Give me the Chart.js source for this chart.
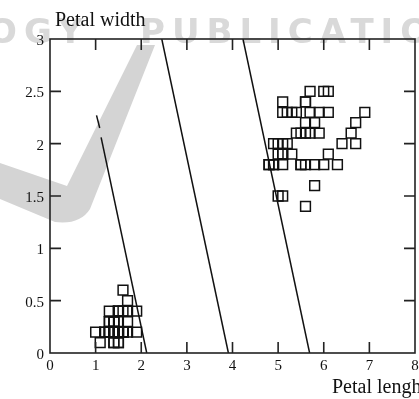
<!DOCTYPE html>
<html><head><meta charset="utf-8">
<script src="https://cdn.jsdelivr.net/npm/chart.js@4.4.0/dist/chart.umd.min.js"></script>
<style>html,body{margin:0;padding:0;background:#fff;overflow:hidden}canvas{display:block}</style>
</head><body>
<canvas id="c" width="419" height="399"></canvas>
<script>
const xTitle = 'Petal lenght';
const yTitle = 'Petal width';
const xTicks = [0, 1, 2, 3, 4, 5, 6, 7, 8];
const yTicks = [0, 0.5, 1, 1.5, 2, 2.5, 3];

const setosaLength = [1.4,1.4,1.3,1.5,1.4,1.7,1.4,1.5,1.4,1.5,1.5,1.6,1.4,1.1,1.2,1.5,1.3,1.4,1.7,1.5,1.7,1.5,1.0,1.7,1.9,1.6,1.6,1.5,1.4,1.6,1.6,1.5,1.5,1.4,1.5,1.2,1.3,1.4,1.3,1.5,1.3,1.3,1.3,1.6,1.9,1.4,1.6,1.4,1.5,1.4];
const setosaWidth  = [0.2,0.2,0.2,0.2,0.2,0.4,0.3,0.2,0.2,0.1,0.2,0.2,0.1,0.1,0.2,0.4,0.4,0.3,0.3,0.3,0.2,0.4,0.2,0.5,0.2,0.2,0.4,0.2,0.2,0.2,0.2,0.4,0.1,0.2,0.2,0.2,0.2,0.1,0.2,0.2,0.3,0.3,0.2,0.6,0.4,0.3,0.2,0.2,0.2,0.2];

const virginicaLength = [6.0,5.1,5.9,5.6,5.8,6.6,6.3,5.8,6.1,5.1,5.3,5.5,5.0,5.1,5.3,5.5,6.7,6.9,5.0,5.7,4.9,6.7,4.9,5.7,6.0,4.8,4.9,5.6,5.8,6.1,6.4,5.6,5.1,5.6,6.1,5.6,5.5,4.8,5.4,5.6,5.1,5.1,5.9,5.7,5.2,5.0,5.2,5.4,5.1];
const virginicaWidth  = [2.5,1.9,2.1,1.8,2.2,2.1,1.8,1.8,2.5,2.0,1.9,2.1,2.0,2.4,2.3,1.8,2.2,2.3,1.5,2.3,2.0,2.0,1.8,2.1,1.8,1.8,1.8,2.1,1.6,1.9,2.0,2.2,1.5,1.4,2.3,2.4,1.8,1.8,2.1,2.4,2.3,1.9,2.3,2.5,2.3,1.9,2.0,2.3,1.8];

// decision boundaries (x = petal length, y = petal width)
const boundary1aX = [1.02, 1.09];
const boundary1aY = [2.27, 2.15];
const boundary1bX = [1.12, 2.12];
const boundary1bY = [2.06, 0];
const boundary2X = [2.45, 3.91];
const boundary2Y = [3, 0];
const boundary3X = [4.23, 5.69];
const boundary3Y = [3, 0];

const pts = (xs, ys) => xs.map((x, i) => ({x: x, y: ys[i]}));

const serif = '"Liberation Serif", "Times New Roman", serif';

const pointStyle = {
  pointStyle: 'rect', pointRadius: 6.9, pointHoverRadius: 6.9,
  pointBorderWidth: 1.5, borderColor: '#111', pointBorderColor: '#111',
  backgroundColor: 'rgba(255,255,255,0)', pointBackgroundColor: 'rgba(255,255,255,0)',
  showLine: false
};
const lineStyle = {
  showLine: true, pointRadius: 0, borderColor: '#111', borderWidth: 1.5, fill: false, tension: 0
};

const framePlugin = {
  id: 'frame',
  beforeDraw(chart) {
    const ctx = chart.ctx;
    ctx.save();
    ctx.fillStyle = '#fff';
    ctx.fillRect(0, 0, chart.width, chart.height);
    // watermark
    ctx.fillStyle = '#d9d9d9';
    ctx.font = 'bold 34px "DejaVu Sans", sans-serif';
    ctx.textBaseline = 'alphabetic';
    try { ctx.letterSpacing = '7px'; } catch (e) {}
    ctx.fillText('OGY', -12, 43);
    ctx.fillText('PUBLICATIONS', 140, 43);
    try { ctx.letterSpacing = '0px'; } catch (e) {}
    ctx.fillStyle = '#d4d4d4';
    ctx.beginPath();
    ctx.moveTo(137, 45);
    ctx.lineTo(155, 45);
    ctx.lineTo(90, 209);
    ctx.quadraticCurveTo(80, 225, 55, 222);
    ctx.lineTo(0, 199);
    ctx.lineTo(0, 163);
    ctx.lineTo(67, 186);
    ctx.closePath();
    ctx.fill();
    ctx.restore();
  },
  afterDraw(chart) {
    const ctx = chart.ctx;
    const {left, right, top, bottom} = chart.chartArea;
    const xs = chart.scales.x, ys = chart.scales.y;
    const L = 11;
    ctx.save();
    ctx.strokeStyle = '#222';
    ctx.lineWidth = 1.6;
    ctx.strokeRect(left, top, right - left, bottom - top);
    ctx.beginPath();
    xTicks.forEach(v => {
      if (v <= xs.min || v >= xs.max) return;
      const px = xs.getPixelForValue(v);
      ctx.moveTo(px, bottom); ctx.lineTo(px, bottom - L);
      ctx.moveTo(px, top); ctx.lineTo(px, top + L);
    });
    yTicks.forEach(v => {
      if (v <= ys.min || v >= ys.max) return;
      const py = ys.getPixelForValue(v);
      ctx.moveTo(left, py); ctx.lineTo(left + L, py);
      ctx.moveTo(right, py); ctx.lineTo(right - L, py);
    });
    ctx.stroke();
    ctx.fillStyle = '#111';
    ctx.font = '20px ' + serif;
    ctx.textBaseline = 'alphabetic';
    ctx.textAlign = 'left';
    ctx.fillText(yTitle, 55, 26);
    ctx.fillText(xTitle, 332, 393);
    ctx.restore();
  }
};

new Chart(document.getElementById('c'), {
  type: 'scatter',
  data: {
    datasets: [
      Object.assign({label: 'boundary 1a', data: pts(boundary1aX, boundary1aY)}, lineStyle),
      Object.assign({label: 'boundary 1b', data: pts(boundary1bX, boundary1bY)}, lineStyle),
      Object.assign({label: 'boundary 2', data: pts(boundary2X, boundary2Y)}, lineStyle),
      Object.assign({label: 'boundary 3', data: pts(boundary3X, boundary3Y)}, lineStyle),
      Object.assign({label: 'setosa', data: pts(setosaLength, setosaWidth)}, pointStyle),
      Object.assign({label: 'virginica', data: pts(virginicaLength, virginicaWidth)}, pointStyle)
    ]
  },
  options: {
    responsive: false,
    devicePixelRatio: 1,
    animation: false,
    layout: {autoPadding: false, padding: {top: 39, right: 4, left: 0, bottom: 0}},
    plugins: {legend: {display: false}, tooltip: {enabled: false}, title: {display: false}},
    scales: {
      x: {
        type: 'linear', min: 0, max: 8,
        afterBuildTicks: s => { s.ticks = xTicks.map(v => ({value: v})); },
        ticks: {font: {family: serif, size: 15}, color: '#111', padding: 4, maxRotation: 0, autoSkip: false,
                callback: v => String(v)},
        grid: {display: false, drawTicks: false},
        border: {display: false},
        afterFit: s => { s.height = 46; s.paddingLeft = 0; s.paddingRight = 0; }
      },
      y: {
        type: 'linear', min: 0, max: 3,
        afterBuildTicks: s => { s.ticks = yTicks.map(v => ({value: v})); },
        ticks: {font: {family: serif, size: 15}, color: '#111', padding: 6, autoSkip: false, labelOffset: 2,
                callback: v => String(v)},
        grid: {display: false, drawTicks: false},
        border: {display: false},
        afterFit: s => { s.width = 50; s.paddingTop = 0; s.paddingBottom = 0; }
      }
    }
  },
  plugins: [framePlugin]
});
</script>
</body></html>
